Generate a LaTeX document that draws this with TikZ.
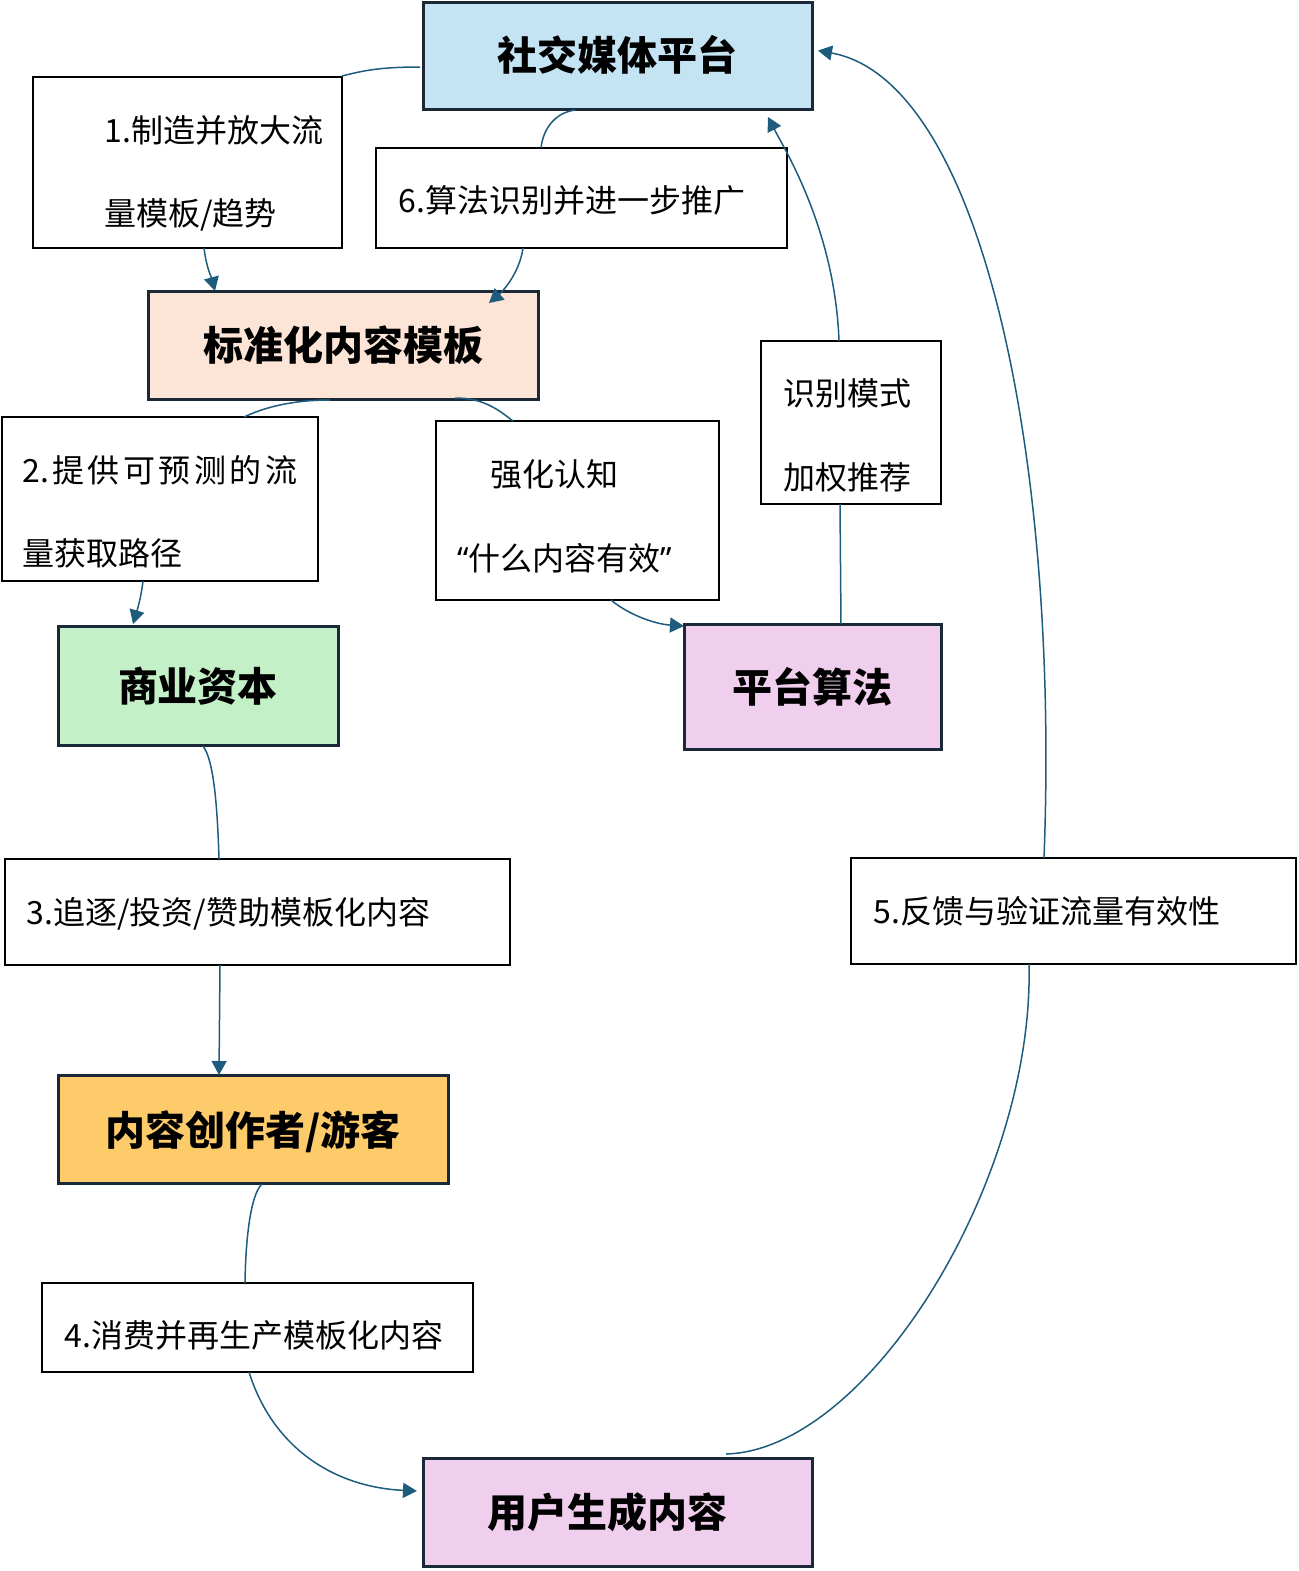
\documentclass[tikz,border=0pt]{standalone}
\usepackage{fontspec}
\setmainfont{Noto Sans CJK SC}
\newfontfamily\latinf{Noto Sans}
\usetikzlibrary{arrows.meta,fit,calc}
\definecolor{cblue}{RGB}{196,228,244}
\definecolor{cpeach}{RGB}{252,228,214}
\definecolor{cgreen}{RGB}{196,240,200}
\definecolor{cpink}{RGB}{240,206,238}
\definecolor{corange}{RGB}{253,203,106}
\definecolor{edge}{RGB}{26,40,56}
\definecolor{lineblue}{RGB}{30,92,126}
\begin{document}
\begin{tikzpicture}[x=0.5pt,y=-0.5pt,
  lbox/.style={draw=black, line width=1pt, fill=white, inner sep=0pt, outer sep=0pt},
  mbox/.style={draw=edge, line width=1.5pt, inner sep=0pt, outer sep=0pt},
  ltxt/.style={inner sep=0pt, anchor=west, font=\fontsize{16pt}{19pt}\selectfont, text height=14pt, text depth=2pt},
  mtxt/.style={inner sep=0pt, font=\fontsize{20pt}{24pt}\selectfont\bfseries, text height=17.6pt, text depth=2.4pt},
  conn/.style={draw=lineblue, line width=0.75pt},
  arr/.style={conn, -{Triangle[length=7pt,width=7.5pt]}}]
\useasboundingbox (0,0) rectangle (1299,1571);
% main boxes
\node[mbox, fill=cblue,   fit={(423,2) (812,109)}] (smp) {};
\node[mbox, fill=cpeach,  fit={(148,291) (538,399)}] (std) {};
\node[mbox, fill=cgreen,  fit={(58,626) (338,745)}] (biz) {};
\node[mbox, fill=cpink,   fit={(684,624) (941,749)}] (alg) {};
\node[mbox, fill=corange, fit={(58,1075) (448,1183)}] (crt) {};
\node[mbox, fill=cpink,   fit={(423,1458) (812,1566)}] (ugc) {};
% label boxes
\node[lbox, fit={(33,77) (342,248)}] (l1) {};
\node[lbox, fit={(376,148) (787,248)}] (l6) {};
\node[lbox, fit={(2,417) (318,581)}] (l2) {};
\node[lbox, fit={(436,421) (719,600)}] (lq) {};
\node[lbox, fit={(761,341) (941,504)}] (lr) {};
\node[lbox, fit={(5,859) (510,965)}] (l3) {};
\node[lbox, fit={(851,858) (1296,964)}] (l5) {};
\node[lbox, fit={(42,1283) (473,1372)}] (l4) {};
% main texts
\node[mtxt] (tsmp) at (617,55) {社交媒体平台};
\node[mtxt] (tstd) at (343,345) {标准化内容模板};
\node[mtxt] (tbiz) at (198,686) {商业资本};
\node[mtxt] (talg) at (812,687) {平台算法};
\node[mtxt] (tcrt) at (253,1130) {内容创作者/游客};
\node[mtxt] (tugc) at (607,1512) {用户生成内容};
% label texts
\node[ltxt] (t1a) at (104,130) {1.制造并放大流};
\node[ltxt] (t1b) at (104,213) {量模板/趋势};
\node[ltxt] (t6) at (398,200) {6.算法识别并进一步推广};
\node[ltxt] (t2a) at (22,470) {\hbox to 137.5pt{2.\hfil 提\hfil 供\hfil 可\hfil 预\hfil 测\hfil 的\hfil 流}};
\node[ltxt] (t2b) at (22,553) {量获取路径};
\node[ltxt] (tqa) at (490,474) {强化认知};
\node[ltxt] (tqb) at (457,558) {{\latinf “}什么内容有效{\latinf ”}};
\node[ltxt] (tra) at (783,393) {识别模式};
\node[ltxt] (trb) at (783,477) {加权推荐};
\node[ltxt] (t3) at (26,912) {3.追逐/投资/赞助模板化内容};
\node[ltxt] (t5) at (873,911) {5.反馈与验证流量有效性};
\node[ltxt] (t4) at (64,1335) {4.消费并再生产模板化内容};
% connectors
\draw[conn] ($(smp.west)+(-3,11.5)$) .. controls ($(smp.west)+(-45,11.5)$) and ($(l1.north east)+(20,-6)$) .. ($(l1.north east)+(0,-1)$);
\draw[arr] ($(l1.south)+(16.5,0)$) .. controls ($(l1.south)+(19,20)$) and ($(std.north west)+(63,-15)$) .. ($(std.north west)+(67,0)$);
\draw[conn] ($(smp.south)+(-42,1)$) .. controls ($(smp.south)+(-60,3)$) and ($(l6.north)+(-38,-22)$) .. ($(l6.north)+(-40.5,0)$);
\draw[arr] ($(l6.south)+(-58.5,0)$) .. controls ($(l6.south)+(-62,25)$) and ($(std.north east)+(-35,0)$) .. ($(std.north east)+(-49,12)$);
\draw[conn] ($(std.south)+(-13,1)$) .. controls ($(std.south)+(-50,1)$) and ($(l2.north)+(105,-10)$) .. ($(l2.north)+(84,0)$);
\draw[arr] ($(l2.south)+(-17,0)$) .. controls ($(l2.south)+(-19,18)$) and ($(biz.north west)+(78,-12)$) .. ($(biz.north west)+(75,-2)$);
\draw[conn] ($(std.south east)+(-83,-1)$) .. controls ($(std.south east)+(-55,-1)$) and ($(lq.north)+(-80,-12)$) .. ($(lq.north)+(-64.5,0)$);
\draw[arr] ($(lq.south)+(33.5,0)$) .. controls ($(lq.south)+(50,14)$) and ($(alg.north west)+(-30,0)$) .. ($(alg.north west)+(0,2)$);
\draw[conn] ($(alg.north)+(28.5,0)$) -- ($(lr.south)+(-11,0)$);
\draw[arr] ($(lr.north)+(-12,0)$) .. controls ($(lr.north)+(-16,-111)$) and ($(smp.south east)+(-27,41)$) .. ($(smp.south east)+(-44,8)$);
\draw[conn] ($(biz.south)+(5,1)$) .. controls ($(biz.south)+(16,15)$) and ($(l3.north)+(-40,-50)$) .. ($(l3.north)+(-38.5,0)$);
\draw[arr] ($(l3.south)+(-37.5,0)$) -- ($(crt.north)+(-34,0)$);
\draw[conn] ($(crt.south)+(9,1)$) .. controls ($(crt.south)+(-3,12)$) and ($(l4.north)+(-12,-40)$) .. ($(l4.north)+(-12.5,0)$);
\draw[arr] ($(l4.south)+(-8.5,0)$) .. controls ($(l4.south)+(15,75)$) and ($(ugc.west)+(-90,-25)$) .. ($(ugc.west)+(-6,-21)$);
\draw[conn] ($(ugc.north)+(108.5,-4)$) .. controls ($(ugc.north)+(252,-8)$) and ($(l5.south)+(-39,215)$) .. ($(l5.south)+(-44.5,0)$);
\draw[arr] ($(l5.north)+(-29.5,0)$) .. controls ($(l5.north)+(-14,-400)$) and ($(smp.east)+(170,25)$) .. ($(smp.east)+(6,-5)$);
\end{tikzpicture}
\end{document}
